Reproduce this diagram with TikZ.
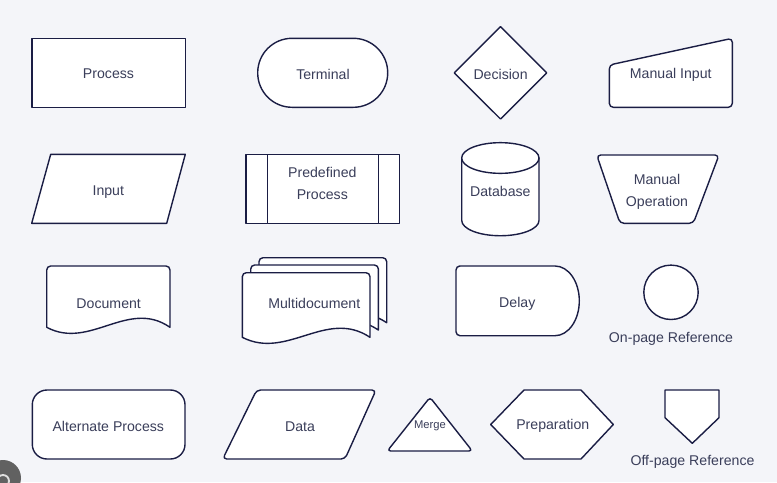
\documentclass[tikz,border=0pt]{standalone}
\usepackage{fontspec}
\setmainfont{Liberation Sans}
\definecolor{bgc}{RGB}{244,245,249}
\definecolor{edge}{RGB}{26,29,68}
\definecolor{ink}{RGB}{58,62,90}
% one sheet of a document symbol: options, left x, top y, width, height
\newcommand\docsheet[5]{%
  \draw[shapeline,#1] (#2,#3+#5) [rounded corners=3pt]-- (#2,#3) -- (#2+#4,#3)
    [sharp corners]-- (#2+#4,#3+#5)
    .. controls (#2+0.66*#4,#3+#5-29) and (#2+0.35*#4,#3+#5+23) .. (#2,#3+#5) -- cycle;}
\tikzset{
  shapeline/.style={draw=edge, fill=white, line width=1.05pt, line join=round},
  lbl/.style={text=ink, font=\fontsize{10.6pt}{12.5pt}\selectfont, align=center, inner sep=0pt, yshift=-0.9pt},
  smalllbl/.style={lbl, font=\fontsize{8.4pt}{10pt}\selectfont}
}
\begin{document}
\begin{tikzpicture}[x=0.75pt, y=-0.75pt]
\useasboundingbox (0,0) rectangle (777,482);
\fill[bgc] (0,0) rectangle (777,482);
\clip (0,0) rectangle (777,482);

% ---- row 1 ----
\draw[shapeline] (32,38.3) rectangle (185.3,107.3);
\node[lbl] (process) at (108.5,73) {Process};

\draw[shapeline, rounded corners=25.8pt] (257.7,38.3) rectangle (387.7,107.3);
\node[lbl] (terminal) at (323,73) {Terminal};

\draw[shapeline] (454.3,72.9) -- (500.5,26.7) -- (546.7,72.9) -- (500.5,119) -- cycle;
\node[lbl] (decision) at (500.6,73) {Decision};

\draw[shapeline, rounded corners=3pt] (609.3,65) -- (732.3,38.3) -- (732.3,107.3) -- (609.3,107.3) -- cycle;
\node[lbl] (manualin) at (670.8,73.5) {Manual Input};

% ---- row 2 ----
\draw[shapeline] (50.7,154.3) -- (185.3,154.3) -- (166.7,223.3) -- (31.7,223.3) -- cycle;
\node[lbl] (input) at (108.3,190.5) {Input};

\draw[shapeline] (246,154.3) rectangle (399.6,223.3);
\draw[shapeline] (267.3,154.3) -- (267.3,223.3) (378.3,154.3) -- (378.3,223.3);
\node[lbl] (predef) at (322.3,182.3) {Predefined\\[4pt]Process};

\draw[shapeline] (461.7,158) -- (461.7,220.4)
  arc[start angle=180, end angle=360, x radius=29pt, y radius=11.5pt] -- (539,158) -- cycle;
\draw[shapeline] (500.35,158) ellipse[x radius=29pt, y radius=11.5pt];
\node[lbl] (database) at (500.3,190.5) {Database};

\draw[shapeline, rounded corners=3pt] (596.7,155) -- (719,155) -- (693.3,223.3) -- (620,223.3) -- cycle;
\node[lbl] (manualop) at (657,191) {Manual\\[4pt]Operation};

% ---- row 3 ----
\docsheet{}{46.7}{266}{123.3}{61.3}
\node[lbl] (document) at (108.7,302.3) {Document};

\docsheet{}{259}{257.7}{127.7}{65}
\docsheet{}{250.7}{265}{127.7}{65}
\docsheet{}{242.3}{272.7}{127.7}{64.6}
\node[lbl] (multidoc) at (314.3,302.3) {Multidocument};

\draw[shapeline] (555,266) -- (459,266) [rounded corners=3pt]-- (456,266) -- (456,335.7) [sharp corners]-- (555,335.7)
  .. controls (568.4,335.7) and (579.3,320) .. (579.3,300.85)
  .. controls (579.3,281.6) and (568.4,266) .. (555,266) -- cycle;
\node[lbl] (delay) at (517.3,302.3) {Delay};

\draw[shapeline] (671,292.3) circle[radius=20.4pt];
\node[lbl] (onpage) at (671,337.3) {On-page Reference};

% ---- row 4 ----
\draw[shapeline, rounded corners=11pt] (32.3,390) rectangle (185,459);
\node[lbl] (altproc) at (108.3,425) {Alternate Process};

\draw[shapeline, rounded corners=3pt] (256.7,390) -- (376,390) -- (345,459) -- (222.7,459) -- cycle;
\node[lbl] (data) at (300,425) {Data};

\draw[shapeline, rounded corners=2.5pt] (430,397.3) -- (472.3,451) -- (387.3,451) -- cycle;
\node[smalllbl] (merge) at (430,425) {Merge};

\draw[shapeline] (490.7,424.5) -- (524,390) -- (581,390) -- (613.3,424.5) -- (581,459) -- (524,459) -- cycle;
\node[lbl] (prep) at (552.8,425) {Preparation};

\draw[shapeline] (665,390) -- (719,390) -- (719,417.7) -- (692.3,443.3) -- (665,417.7) -- cycle;
\node[lbl] (offpage) at (692.5,460.7) {Off-page Reference};

% round grey button in the lower left corner
\fill[black!62] (3,478) circle[radius=13.5pt];
\draw[white!75!gray, line width=1.4pt] (3,481) circle[radius=4.5pt];
\end{tikzpicture}
\end{document}
